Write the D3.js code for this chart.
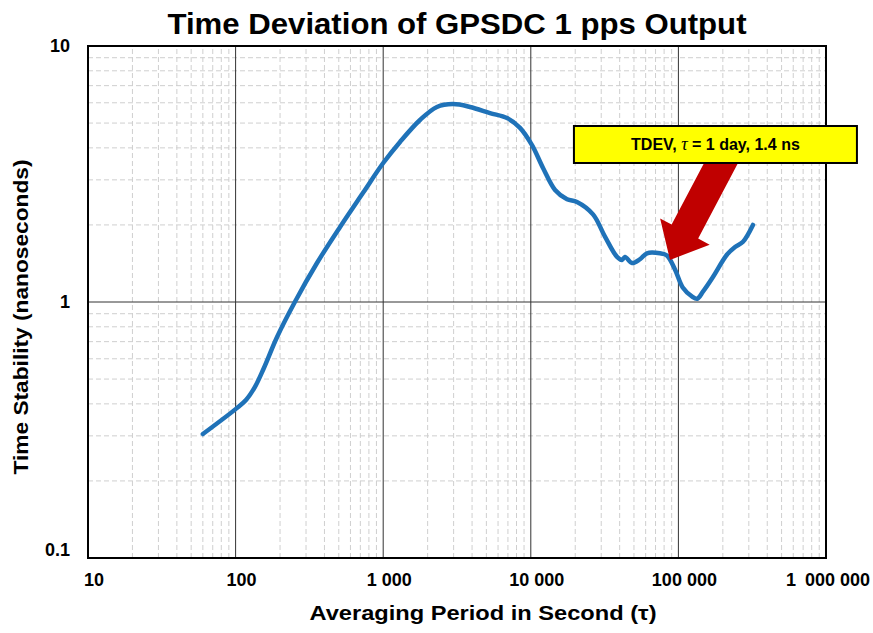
<!DOCTYPE html>
<html>
<head>
<meta charset="utf-8">
<script src="https://cdn.jsdelivr.net/npm/d3@7"></script>
<style>
  body { margin: 0; background: #fff; }
  text { font-family: "Liberation Sans", Arial, sans-serif; font-weight: bold; fill: #000; }
</style>
</head>
<body>
<script>
const width = 873;
const height = 633;
const margin = { top: 46, right: 47, bottom: 75, left: 88 };

// TDEV curve: tau (s), tdev (ns)
const tau = [60, 102, 118, 135, 155, 191, 252, 356, 509, 730, 1000, 1300, 1775, 2312, 2972, 3870,
  5290, 6900, 8450, 10190, 12100, 14600, 17600, 20550, 26400, 31800, 38400, 41500, 43500,
  48500, 55000, 61200, 75000, 83600, 94800, 107000, 124000, 134000, 147000, 171000, 213000,
  242000, 274000, 320000];
const tdev = [0.305, 0.385, 0.415, 0.465, 0.55, 0.73, 1.0, 1.42, 1.96, 2.67, 3.49, 4.22, 5.14, 5.78, 5.93, 5.78,
  5.47, 5.23, 4.79, 4.10, 3.34, 2.74, 2.52, 2.46, 2.2, 1.80, 1.50, 1.46, 1.50,
  1.42, 1.47, 1.55, 1.55, 1.52, 1.34, 1.14, 1.05, 1.03, 1.10, 1.25, 1.53,
  1.64, 1.72, 2.0];

const xTicks = [10, 100, 1000, 10000, 100000, 1000000];
const xTickLabels = ['10', '100', '1 000', '10 000', '100 000', '1\u2002000 000'];
const yTicks = [0.1, 1, 10];
const yTickLabels = ['0.1', '1', '10'];

// annotation, anchored in data units
const arrowTip = { tau: 87700, tdev: 1.46 };
const boxCorner = { tau: 19600, tdev: 4.87 };

const data = tau.map((t, i) => ({ t, v: tdev[i] }));

const svg = d3.select('body').append('svg')
  .attr('width', width)
  .attr('height', height);

const x = d3.scaleLog().domain([10, 1e6]).range([margin.left, width - margin.right]);
const y = d3.scaleLog().domain([0.1, 10]).range([height - margin.bottom, margin.top]);

// minor grid
const minorX = [];
const minorY = [];
for (let d = 10; d < 1e6; d *= 10) for (let k = 2; k < 10; k++) minorX.push(d * k);
for (let d = 0.1; d < 10; d *= 10) for (let k = 2; k < 10; k++) minorY.push(d * k);

const grid = svg.append('g');
grid.selectAll('line.mx').data(minorX).join('line')
  .attr('x1', d => x(d)).attr('x2', d => x(d))
  .attr('y1', y(0.1)).attr('y2', y(10))
  .attr('stroke', '#cfcfcf').attr('stroke-dasharray', '5,3');
grid.selectAll('line.my').data(minorY).join('line')
  .attr('y1', d => y(d)).attr('y2', d => y(d))
  .attr('x1', x(10)).attr('x2', x(1e6))
  .attr('stroke', '#cfcfcf').attr('stroke-dasharray', '5,3');

// major grid
grid.selectAll('line.Mx').data(xTicks).join('line')
  .attr('x1', d => x(d)).attr('x2', d => x(d))
  .attr('y1', y(0.1)).attr('y2', y(10))
  .attr('stroke', '#333').attr('stroke-width', 1);
grid.selectAll('line.My').data(yTicks).join('line')
  .attr('y1', d => y(d)).attr('y2', d => y(d))
  .attr('x1', x(10)).attr('x2', x(1e6))
  .attr('stroke', '#333').attr('stroke-width', 1);

// frame
svg.append('rect')
  .attr('x', x(10)).attr('y', y(10))
  .attr('width', x(1e6) - x(10)).attr('height', y(0.1) - y(10))
  .attr('fill', 'none').attr('stroke', '#000').attr('stroke-width', 2);

// tick labels
svg.append('g').selectAll('text').data(xTicks).join('text')
  .attr('x', (d, i) => x(d) + (i === xTicks.length - 1 ? 2 : 6))
  .attr('y', y(0.1) + 28)
  .attr('text-anchor', 'middle')
  .style('font-size', '18px')
  .text((d, i) => xTickLabels[i]);

svg.append('g').selectAll('text').data(yTicks).join('text')
  .attr('x', x(10) - 18)
  .attr('y', d => y(d) + (d === 0.1 ? -2 : 6))
  .attr('text-anchor', 'end')
  .style('font-size', '18px')
  .text((d, i) => yTickLabels[i]);

// line
const line = d3.line()
  .x(d => x(d.t))
  .y(d => y(d.v))
  .curve(d3.curveCatmullRom.alpha(0.5));

svg.append('path')
  .datum(data)
  .attr('d', line)
  .attr('fill', 'none')
  .attr('stroke', '#1f72b8')
  .attr('stroke-width', 4.5)
  .attr('stroke-linecap', 'round')
  .attr('stroke-linejoin', 'round');

// arrow
const tip = [x(arrowTip.tau), y(arrowTip.tdev)];
const tail = [tip[0] + 59, tip[1] - 112];
const len = Math.hypot(tail[0] - tip[0], tail[1] - tip[1]);
const u = [(tail[0] - tip[0]) / len, (tail[1] - tip[1]) / len];
const n = [-u[1], u[0]];
const headLen = 32, headW = 28, shaftW = 15;
const at = (s, w) => [tip[0] + u[0] * s + n[0] * w, tip[1] + u[1] * s + n[1] * w];
const arrowPts = [
  at(0, 0), at(headLen, headW), at(headLen, shaftW), at(len, shaftW),
  at(len, -shaftW), at(headLen, -shaftW), at(headLen, -headW)
];
svg.append('polygon')
  .attr('points', arrowPts.map(p => p.join(',')).join(' '))
  .attr('fill', '#c00000');

// label box
const bx = x(boxCorner.tau), by = y(boxCorner.tdev);
const bw = 283, bh = 37;
svg.append('rect')
  .attr('x', bx).attr('y', by)
  .attr('width', bw).attr('height', bh)
  .attr('fill', '#ffff00')
  .attr('stroke', '#000').attr('stroke-width', 2);

const label = svg.append('text')
  .attr('x', bx + bw / 2)
  .attr('y', by + bh / 2 + 6)
  .attr('text-anchor', 'middle')
  .style('font-size', '16px');
label.append('tspan').text('TDEV, ');
label.append('tspan').text('\u03c4')
  .style('font-family', '"Liberation Serif", serif')
  .style('font-style', 'italic').style('font-weight', 'normal').style('font-size', '18px');
label.append('tspan').text(' = 1 day, 1.4 ns');

// titles
svg.append('text')
  .attr('x', (x(10) + x(1e6)) / 2)
  .attr('y', 34)
  .attr('text-anchor', 'middle')
  .attr('textLength', 579)
  .attr('lengthAdjust', 'spacingAndGlyphs')
  .style('font-size', '29px')
  .text('Time Deviation of GPSDC 1 pps Output');

svg.append('text')
  .attr('x', 483)
  .attr('y', 620)
  .attr('text-anchor', 'middle')
  .attr('textLength', 347)
  .attr('lengthAdjust', 'spacingAndGlyphs')
  .style('font-size', '21px')
  .text('Averaging Period in Second (\u03c4)');

svg.append('text')
  .attr('transform', 'translate(28,317) rotate(-90)')
  .attr('text-anchor', 'middle')
  .attr('textLength', 315)
  .attr('lengthAdjust', 'spacingAndGlyphs')
  .style('font-size', '21px')
  .text('Time Stability (nanoseconds)');
</script>
</body>
</html>
